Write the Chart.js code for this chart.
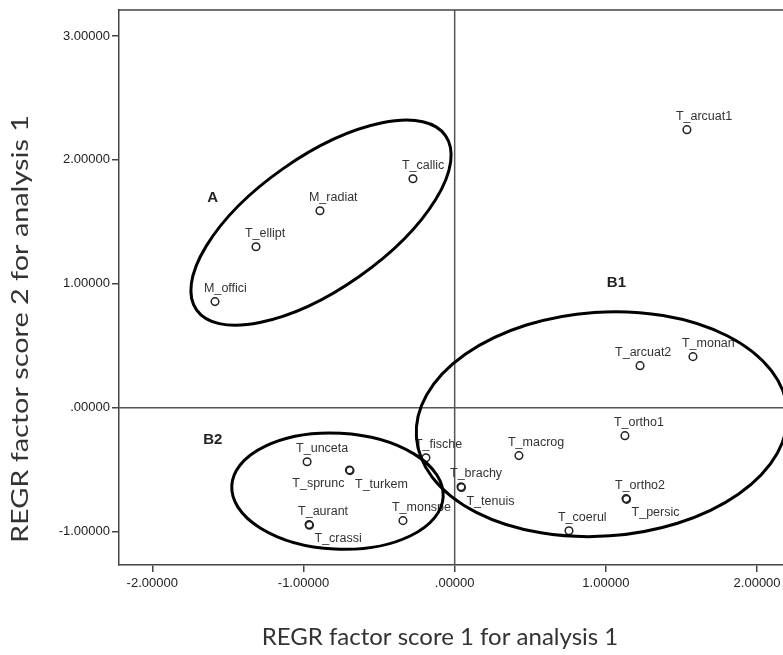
<!DOCTYPE html>
<html>
<head>
<meta charset="utf-8">
<script src="https://cdn.jsdelivr.net/npm/chart.js@4.4.0/dist/chart.umd.min.js"></script>
<style>
    html, body { margin: 0; padding: 0; background: #fff; overflow: hidden; }
    #wrap { width: 783px; height: 655px; overflow: hidden; position: relative; }
</style>
</head>
<body>
<div id="wrap"><canvas id="myChart" width="800" height="655"></canvas></div>
<script>
// ====== data ======
var pointNames = ['T_arcuat1', 'T_callic', 'M_radiat', 'T_ellipt', 'M_offici', 'T_arcuat2', 'T_monan',
    'T_ortho1', 'T_macrog', 'T_fische', 'T_brachy', 'T_tenuis', 'T_ortho2', 'T_persic', 'T_coerul',
    'T_unceta', 'T_turkem', 'T_sprunc', 'T_aurant', 'T_crassi', 'T_monspe'];
var score1 = [1.536, -0.276, -0.891, -1.314, -1.585, 1.226, 1.576,
    1.126, 0.425, -0.190, 0.042, 0.045, 1.133, 1.137, 0.756,
    -0.976, -0.692, -0.696, -0.963, -0.960, -0.342];
var score2 = [2.244, 1.848, 1.590, 1.299, 0.856, 0.339, 0.412,
    -0.226, -0.387, -0.404, -0.638, -0.645, -0.734, -0.740, -0.993,
    -0.436, -0.508, -0.503, -0.944, -0.949, -0.912];
// where each label sits next to its point (overlapping points get other sides)
var labelSide = ['above', 'above', 'above', 'above', 'above', 'aboveLeft', 'above',
    'above', 'above', 'above', 'above', 'belowRight', 'above', 'belowRight', 'above',
    'above', 'belowRight', 'belowLeft', 'above', 'belowRight', 'above'];

var xTickValues = [-2, -1, 0, 1, 2];
var yTickValues = [-1, 0, 1, 2, 3];

// groups drawn as ellipses (centres and radii in score units)
var groupNames = ['A', 'B1', 'B2'];
var groupLabelX = [-1.60, 1.07, -1.60];
var groupLabelY = [1.69, 1.01, -0.26];
var groupCentreX = [-0.884, 0.974, -0.775];
var groupCentreY = [1.493, -0.133, -0.674];
var groupRadiusX = [1.005, 1.23, 0.70];
var groupRadiusY = [0.533, 0.904, 0.468];
var groupTilt = [-35, -4, 3];

// ====== helpers ======
function fmtTick(v) {
    var s = Number(v).toFixed(5);
    return s.replace(/^0\./, '.').replace(/^-0\./, '-.');
}

var points = [];
for (var i = 0; i < pointNames.length; i++) {
    points.push({x: score1[i], y: score2[i]});
}

// reference lines, frame, labels and ellipses
var decorPlugin = {
    id: 'decor',
    beforeDatasetsDraw: function (chart) {
        var ctx = chart.ctx, a = chart.chartArea;
        var sx = chart.scales.x, sy = chart.scales.y;
        ctx.save();
        ctx.strokeStyle = '#555';
        ctx.lineWidth = 1.5;
        ctx.beginPath();
        var x0 = sx.getPixelForValue(0), y0 = sy.getPixelForValue(0);
        ctx.moveTo(x0, a.top); ctx.lineTo(x0, a.bottom);
        ctx.moveTo(a.left, y0); ctx.lineTo(a.right, y0);
        ctx.stroke();
        // top / right frame
        ctx.strokeStyle = '#444';
        ctx.beginPath();
        ctx.moveTo(a.left, a.top); ctx.lineTo(a.right, a.top); ctx.lineTo(a.right, a.bottom);
        ctx.stroke();
        ctx.restore();
    },
    afterDatasetsDraw: function (chart) {
        var ctx = chart.ctx;
        var sx = chart.scales.x, sy = chart.scales.y;
        var meta = chart.getDatasetMeta(0);
        ctx.save();
        // point labels
        ctx.font = '12.5px "Liberation Sans", Arial, sans-serif';
        ctx.fillStyle = '#333';
        ctx.textBaseline = 'alphabetic';
        for (var i = 0; i < meta.data.length; i++) {
            var p = meta.data[i];
            var side = labelSide[i];
            if (side === 'above') {
                ctx.textAlign = 'left'; ctx.fillText(pointNames[i], p.x - 11, p.y - 10);
            } else if (side === 'aboveLeft') {
                ctx.textAlign = 'left'; ctx.fillText(pointNames[i], p.x - 25, p.y - 10);
            } else if (side === 'belowRight') {
                ctx.textAlign = 'left'; ctx.fillText(pointNames[i], p.x + 5, p.y + 17);
            } else {
                ctx.textAlign = 'right'; ctx.fillText(pointNames[i], p.x - 5, p.y + 17);
            }
        }
        // group ellipses
        var pxX = Math.abs(sx.getPixelForValue(1) - sx.getPixelForValue(0));
        var pxY = Math.abs(sy.getPixelForValue(1) - sy.getPixelForValue(0));
        ctx.strokeStyle = '#000';
        ctx.lineWidth = 3;
        for (var g = 0; g < groupNames.length; g++) {
            ctx.beginPath();
            ctx.ellipse(sx.getPixelForValue(groupCentreX[g]), sy.getPixelForValue(groupCentreY[g]),
                groupRadiusX[g] * pxX, groupRadiusY[g] * pxY, groupTilt[g] * Math.PI / 180, 0, Math.PI * 2);
            ctx.stroke();
        }
        // group letters
        ctx.font = 'bold 15px "Liberation Sans", Arial, sans-serif';
        ctx.fillStyle = '#222';
        ctx.textAlign = 'center';
        ctx.textBaseline = 'middle';
        for (var g2 = 0; g2 < groupNames.length; g2++) {
            ctx.fillText(groupNames[g2], sx.getPixelForValue(groupLabelX[g2]), sy.getPixelForValue(groupLabelY[g2]));
        }
        // axis titles (the y title is stretched along its length like the original)
        ctx.font = '24px Lato, "Open Sans", sans-serif';
        ctx.fillStyle = '#333';
        ctx.fillText('REGR factor score 1 for analysis 1', 440, 637);
        ctx.translate(20, 329);
        ctx.rotate(-Math.PI / 2);
        ctx.scale(1.2, 1);
        ctx.fillText('REGR factor score 2 for analysis 1', 0, 0);
        ctx.restore();
    }
};

var ctx = document.getElementById('myChart');
var chart = new Chart(ctx, {
    type: 'scatter',
    data: {
        datasets: [{
            data: points,
            pointStyle: 'circle',
            pointRadius: 3.8,
            pointBorderWidth: 1.5,
            pointBorderColor: '#222',
            pointBackgroundColor: 'rgba(255,255,255,0)'
        }]
    },
    options: {
        responsive: false,
        animation: false,
        layout: {padding: {top: 10, right: 8, bottom: 0, left: 0}},
        plugins: {legend: {display: false}, tooltip: {enabled: false}},
        scales: {
            x: {
                type: 'linear',
                min: -2.22,
                max: 2.231,
                afterBuildTicks: function (scale) {
                    scale.ticks = xTickValues.map(function (v) { return {value: v}; });
                },
                afterFit: function (scale) { scale.height = 90; },
                grid: {drawOnChartArea: false, drawTicks: true, tickLength: 7, color: '#444', lineWidth: 1.5},
                border: {display: true, color: '#444', width: 1.5},
                ticks: {
                    padding: 4,
                    color: '#222',
                    font: {family: '"Liberation Sans", Arial, sans-serif', size: 13},
                    callback: function (v) { return fmtTick(v); }
                }
            },
            y: {
                type: 'linear',
                min: -1.27,
                max: 3.21,
                afterBuildTicks: function (scale) {
                    scale.ticks = yTickValues.map(function (v) { return {value: v}; });
                },
                afterFit: function (scale) { scale.width = 119; },
                grid: {drawOnChartArea: false, drawTicks: true, tickLength: 7, color: '#444', lineWidth: 1.5},
                border: {display: true, color: '#444', width: 1.5},
                ticks: {
                    padding: 2,
                    color: '#222',
                    font: {family: '"Liberation Sans", Arial, sans-serif', size: 13},
                    callback: function (v) { return fmtTick(v); }
                }
            }
        }
    },
    plugins: [decorPlugin]
});
</script>
</body>
</html>
